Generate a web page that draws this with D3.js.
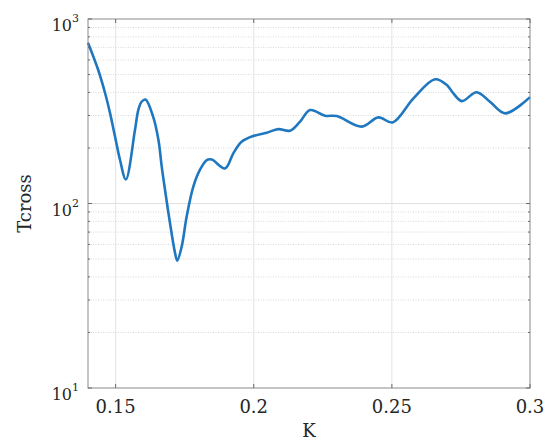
<!DOCTYPE html>
<html>
<head>
<meta charset="utf-8">
<script src="https://cdn.jsdelivr.net/npm/d3@7"></script>
<style>
  body { margin: 0; background: #fff; }
  svg { display: block; }
</style>
</head>
<body>
<svg id="chart" width="549" height="441"></svg>
<script>
// Data
const kappa = [0.1400, 0.1437, 0.1462, 0.1480, 0.1498, 0.1516, 0.1537, 0.1570,
  0.1582, 0.1594, 0.1608, 0.1636, 0.1655, 0.1667, 0.1679, 0.1697, 0.1715, 0.1723,
  0.1739, 0.1757, 0.1781, 0.1805, 0.1830, 0.1848, 0.1896, 0.1926, 0.1956, 0.1998,
  0.2047, 0.2089, 0.2131, 0.2167, 0.2204, 0.2258, 0.2300, 0.2391, 0.2451, 0.2503,
  0.2578, 0.2656, 0.2699, 0.2722, 0.2753, 0.2807, 0.2855, 0.2910, 0.3000];
const tcross = [744, 529, 396, 308, 230, 172, 135, 250,
  321, 356, 366, 295, 221, 158, 118, 78, 54, 49,
  58.3, 84.8, 123, 152, 172, 173, 155, 187, 216, 232,
  242, 253, 248, 277, 321, 299, 298, 261, 293, 275,
  371, 471, 439, 396, 359, 401, 356, 308, 377];
const xTicks = [0.15, 0.2, 0.25, 0.3];
const yDecades = [10, 100, 1000];

const margin = { left: 88, right: 19, top: 19, bottom: 53 };
const width = 549, height = 441;

const svg = d3.select("#chart");

const x = d3.scaleLinear().domain([0.14, 0.3]).range([margin.left, width - margin.right]);
const y = d3.scaleLog().domain([10, 1000]).range([height - margin.bottom, margin.top]);

const x0 = margin.left, x1 = width - margin.right;
const y0 = height - margin.bottom, y1 = margin.top;

// minor values
const minors = [];
[10, 100].forEach(d => { for (let i = 2; i <= 9; i++) minors.push(d * i); });

// minor grid (dotted)
svg.append("g").selectAll("line").data(minors).join("line")
  .attr("x1", x0).attr("x2", x1)
  .attr("y1", d => y(d)).attr("y2", d => y(d))
  .attr("stroke", "#d8d8d8").attr("stroke-width", 1)
  .attr("stroke-dasharray", "1,1.5");

// major grid
svg.append("g").selectAll("line").data([100]).join("line")
  .attr("x1", x0).attr("x2", x1)
  .attr("y1", d => y(d)).attr("y2", d => y(d))
  .attr("stroke", "#e0e0e0").attr("stroke-width", 1);

svg.append("g").selectAll("line").data(xTicks.slice(0, 3)).join("line")
  .attr("x1", d => x(d)).attr("x2", d => x(d))
  .attr("y1", y0).attr("y2", y1)
  .attr("stroke", "#e3e3e3").attr("stroke-width", 1);

// line
const line = d3.line()
  .x((d, i) => x(kappa[i]))
  .y(d => y(d))
  .curve(d3.curveCatmullRom.alpha(0.5));

svg.append("path")
  .datum(tcross)
  .attr("d", line)
  .attr("fill", "none")
  .attr("stroke", "#1f77c0")
  .attr("stroke-width", 2.6)
  .attr("stroke-linejoin", "round");

// box
svg.append("rect")
  .attr("x", x0).attr("y", y1)
  .attr("width", x1 - x0).attr("height", y0 - y1)
  .attr("fill", "none").attr("stroke", "#8a8a8a").attr("stroke-width", 1);

// ticks
const tickCol = "#6a6a6a";
const tg = svg.append("g").attr("stroke", tickCol).attr("stroke-width", 1);
xTicks.forEach(t => {
  tg.append("line").attr("x1", x(t)).attr("x2", x(t)).attr("y1", y0).attr("y2", y0 - 4);
  tg.append("line").attr("x1", x(t)).attr("x2", x(t)).attr("y1", y1).attr("y2", y1 + 4);
});
yDecades.forEach(t => {
  tg.append("line").attr("x1", x0).attr("x2", x0 + 4).attr("y1", y(t)).attr("y2", y(t));
  tg.append("line").attr("x1", x1).attr("x2", x1 - 4).attr("y1", y(t)).attr("y2", y(t));
});
minors.forEach(t => {
  tg.append("line").attr("x1", x0).attr("x2", x0 + 2).attr("y1", y(t)).attr("y2", y(t));
  tg.append("line").attr("x1", x1).attr("x2", x1 - 2).attr("y1", y(t)).attr("y2", y(t));
});

// x tick labels
svg.append("g").selectAll("text").data(xTicks).join("text")
  .attr("x", d => x(d)).attr("y", y0 + 25)
  .attr("text-anchor", "middle")
  .attr("font-family", "DejaVu Serif, serif")
  .attr("font-size", 18)
  .attr("fill", "#262626")
  .text(d => d3.format("")(d));

// y tick labels: 10^n
const yl = svg.append("g").selectAll("text").data(yDecades).join("text")
  .attr("x", x0 - 9).attr("y", d => y(d) + 12)
  .attr("text-anchor", "end")
  .attr("font-family", "DejaVu Serif, serif")
  .attr("font-size", 16)
  .attr("fill", "#262626");
yl.append("tspan").text("10");
yl.append("tspan").attr("dy", -9).attr("font-size", 11).text(d => Math.round(Math.log10(d)));

// axis labels
svg.append("text")
  .attr("x", (x0 + x1) / 2).attr("y", 437)
  .attr("text-anchor", "middle")
  .attr("font-family", "DejaVu Serif, serif")
  .attr("font-size", 18)
  .attr("fill", "#262626")
  .text("K");

svg.append("text")
  .attr("transform", `translate(31,${(y0 + y1) / 2}) rotate(-90)`)
  .attr("text-anchor", "middle")
  .attr("font-family", "DejaVu Serif, serif")
  .attr("font-size", 18)
  .attr("fill", "#262626")
  .text("Tcross");
</script>
</body>
</html>
